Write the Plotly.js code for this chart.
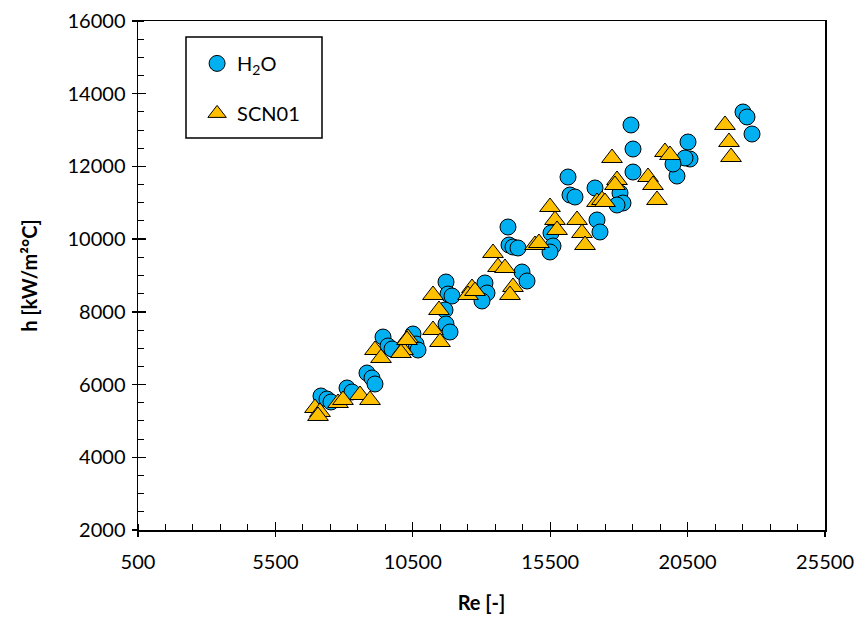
<!DOCTYPE html>
<html>
<head>
<meta charset="utf-8">
<script src="https://cdn.plot.ly/plotly-3.0.1.min.js"></script>
<style>html,body{margin:0;padding:0;background:#fff;}#chart{width:861px;height:621px;}</style>
</head>
<body>
<div id="chart"></div>
<script>
// H2O series
const reH2O = [7159, 7378, 7523, 8106, 8288, 8833, 9015, 9124, 9416, 9598, 9743, 10507, 10616, 10689,
  11708, 11781, 11927, 11672, 11708, 11854, 13127, 13200, 13018, 13964, 14001, 14146, 14328, 14474, 14656,
  15529, 15602, 15493, 16148, 16221, 16403, 17131, 17203, 17312, 18040, 18149, 17931, 18440, 18513, 18513,
  20515, 20587, 20405, 20114, 19969, 22516, 22662, 22844];
const hH2O = [5686, 5603, 5521, 5906, 5796, 6318, 6181, 6016, 7308, 7061, 6978, 7391, 7116, 6951,
  8821, 8491, 8436, 8051, 7666, 7446, 8794, 8519, 8299, 10334, 9839, 9784, 9757, 9096, 8849,
  10169, 9812, 9647, 11709, 11214, 11159, 11407, 10527, 10197, 11269, 10994, 10939, 13140, 12479, 11846,
  12672, 12204, 12232, 11736, 12067, 13497, 13360, 12892];
// SCN01 series
const reSCN = [6941, 7123, 7050, 7778, 7960, 8579, 8943, 9124, 9343, 10143, 10325, 10070, 10289,
  11235, 11453, 11235, 11490, 12654, 12509, 12763, 13419, 13600, 13855, 14146, 14037, 14947, 15092,
  15493, 15675, 15748, 16476, 16657, 16767, 17203, 17385, 17494, 17749, 17931, 17858,
  19059, 19241, 19386, 19677, 19859, 21861, 22007, 22080];
const hSCN = [5356, 5246, 5136, 5493, 5576, 5713, 5576, 6951, 6731, 6951, 7281, 6868, 7226,
  8464, 8051, 7501, 7171, 8656, 8464, 8574, 9619, 9234, 9206, 8684, 8464, 9839, 9894,
  10884, 10527, 10252, 10527, 10169, 9839, 11022, 11077, 11022, 12232, 11627, 11489,
  11709, 11489, 11077, 12397, 12314, 13140, 12672, 12259];
const seriesNames = ['H<sub>2</sub>O', 'SCN01'];
const xTitle = 'Re [-]';
const yTitle = 'h [kW/m²°C]';

const FONT = 'Lato, "Open Sans", sans-serif';

const traces = [
  {x: reH2O, y: hH2O, name: seriesNames[0], type: 'scatter', mode: 'markers', legendgroup: 'a',
   marker: {symbol: 'circle', size: 16, color: '#00B0F0', line: {color: '#000', width: 1}}},
  {x: reSCN, y: hSCN, name: seriesNames[1], type: 'scatter', mode: 'markers', legendgroup: 'b',
   marker: {symbol: 'triangle-up', size: 18, color: '#FFC000', line: {color: '#000', width: 1}}},
  {x: [], y: [], xaxis: 'x2', yaxis: 'y2', showlegend: false, type: 'scatter', mode: 'markers', hoverinfo: 'skip'}
];

const layout = {
  width: 861, height: 621,
  margin: {l: 138, r: 36, t: 21, b: 91},
  paper_bgcolor: '#fff', plot_bgcolor: '#fff',
  font: {family: FONT, size: 20, color: '#000'},
  showlegend: true,
  legend: {x: 0.086, y: 0.955, xanchor: 'left', yanchor: 'top', bgcolor: 'rgba(0,0,0,0)',
    borderwidth: 0, tracegroupgap: 21, traceorder: 'grouped', font: {family: FONT, size: 20},
    itemwidth: 30},
  xaxis: {range: [500, 25500], tick0: 500, dtick: 5000, tickformat: 'd', ticks: 'outside', ticklen: 5, tickwidth: 1.3,
    tickcolor: '#000', showgrid: false, zeroline: false, showline: true, linecolor: '#000', linewidth: 1.5,
    mirror: true, ticklabelstandoff: 8, tickfont: {family: FONT, size: 20},
    minor: {dtick: 1000, tick0: 500, ticks: 'inside', ticklen: 6, tickwidth: 1, tickcolor: '#000', showgrid: false},
    title: {text: '<b>' + xTitle + '</b>', standoff: 24, font: {family: FONT, size: 20}}},
  yaxis: {range: [2000, 16000], dtick: 2000, tickformat: 'd', ticks: 'outside', ticklen: 5, tickwidth: 1.3,
    tickcolor: '#000', showgrid: false, zeroline: false, showline: true, linecolor: '#000', linewidth: 1.5,
    mirror: true, ticklabelstandoff: 2, tickfont: {family: FONT, size: 20},
    minor: {dtick: 500, ticks: 'inside', ticklen: 6, tickwidth: 1, tickcolor: '#000', showgrid: false},
    title: {text: '<b>' + yTitle + '</b>', standoff: 24, font: {family: FONT, size: 20}}},
  xaxis2: {overlaying: 'x', anchor: 'y2', range: [500, 25500], tick0: 500, dtick: 5000, ticks: 'inside', ticklen: 8,
    tickwidth: 1.3, tickcolor: '#000', showticklabels: false, showgrid: false, zeroline: false, showline: false},
  yaxis2: {overlaying: 'y', anchor: 'x2', range: [2000, 16000], dtick: 2000, ticks: 'inside', ticklen: 8,
    tickwidth: 1.3, tickcolor: '#000', showticklabels: false, showgrid: false, zeroline: false, showline: false},
  shapes: [{type: 'rect', xref: 'paper', yref: 'paper',
    x0: (186 - 138) / 687, x1: (322 - 138) / 687, y0: (530 - 138) / 509, y1: (530 - 37) / 509,
    line: {color: '#000', width: 1.5}, fillcolor: 'rgba(0,0,0,0)'}]
};

Plotly.newPlot('chart', traces, layout, {displayModeBar: false, staticPlot: true});
</script>
</body>
</html>
